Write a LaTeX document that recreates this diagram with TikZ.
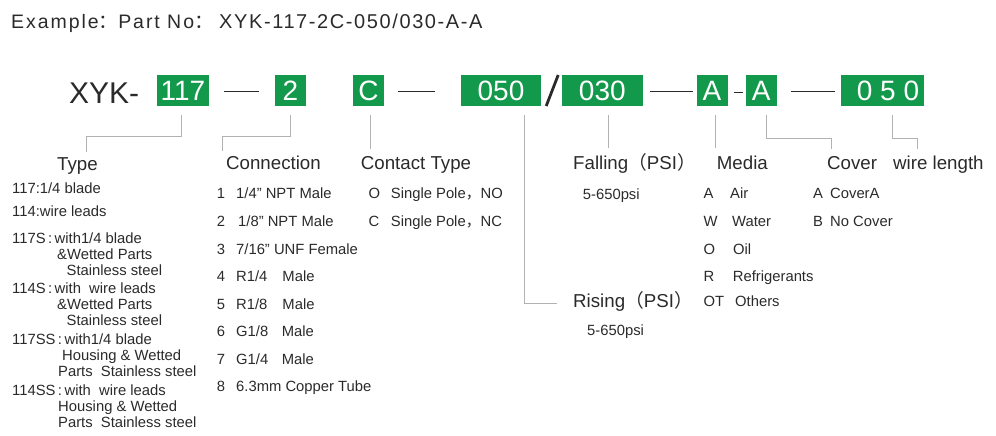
\documentclass[tikz,border=0pt]{standalone}
\usepackage{fontspec}
\setmainfont{Liberation Sans}
\newfontfamily\cjk{Noto Sans CJK SC}
\newfontfamily\spaced[LetterSpace=10]{Liberation Sans}
\newfontfamily\narrowspaced[LetterSpace=8]{Liberation Sans}
\newcommand{\fw}[1]{{\cjk #1}}

\definecolor{boxgreen}{HTML}{13994B}
\definecolor{ink}{HTML}{2A2A2A}
\definecolor{wire}{HTML}{B2B2B2}

\tikzset{
    box node/.style={fill=boxgreen, text=white, inner sep=0pt, minimum height=31pt,
        font=\fontsize{28}{28}\selectfont, text height=20pt, text depth=0pt},
    head node/.style={anchor=base west, inner sep=0pt, text=ink, font=\fontsize{18.7}{20}\selectfont},
    item node/.style={anchor=base west, inner sep=0pt, text=ink, font=\fontsize{14.8}{16}\selectfont},
    link/.style={draw=wire, line width=0.9pt},
    bar/.style={draw=ink, line width=1.3pt}
    }

\begin{document}
\begin{tikzpicture}[x=1pt, y=-1pt]
    \useasboundingbox (0,0) rectangle (996,436);
    % Title line
    \node(title)[anchor=base west, inner sep=0pt, text=ink, font=\spaced\fontsize{19.5}{20}\selectfont]
        at (11,29) {Example\fw{：}Part No\fw{：}};
    \node(partno)[anchor=base west, inner sep=0pt, text=ink, font=\narrowspaced\fontsize{20}{22}\selectfont]
        at (219,29) {XYK-117-2C-050/030-A-A};
    % The code boxes
    \node(xyk)[anchor=base west, inner sep=0pt, text=ink, font=\fontsize{30}{30}\selectfont] at (69,103.3) {XYK-};
    \node(b117)[box node, minimum width=52pt] at (183,90.5) {117};
    \node(b2)[box node, minimum width=31pt] at (290.3,90.5) {2};
    \node(bC)[box node, minimum width=31pt] at (368.5,90.5) {C};
    \node(b050)[box node, minimum width=80pt] at (501,90.5) {050\hspace{8pt}};
    \node(b030)[box node, minimum width=81pt] at (602.3,90.5) {030};
    \node(bA1)[box node, minimum width=31pt] at (712,90.5) {A};
    \node(bA2)[box node, minimum width=31pt] at (761.3,90.5) {A};
    \node(bWire)[box node, minimum width=83pt] at (882.5,90.5) {\hspace{11pt}0 5 0};
    % Separators
    \draw[bar] ([shift={(15,1)}]b117.east) -- ([shift={(-16,1)}]b2.west);
    \draw[bar] ([shift={(14,1)}]bC.east) -- ([shift={(-26,1)}]b050.west);
    \draw[bar] ([shift={(7,1)}]b030.east) -- ([shift={(-3,1)}]bA1.west);
    \draw[bar] ([shift={(6,2)}]bA1.east) -- ([shift={(-3,2)}]bA2.west);
    \draw[bar] ([shift={(14,1)}]bA2.east) -- ([shift={(-6,1)}]bWire.west);
    \draw[draw=ink, line width=2.8pt] (b050.east) ++(5,15.5) -- ++(12,-31);
    % Headings
    \node(hType)[head node] at (57,170) {Type};
    \node(hConn)[head node] at (226,169.5) {Connection};
    \node(hCont)[head node] at (360.7,169.5) {Contact Type};
    \node(hFall)[head node] at (573,169.5) {Falling\fw{（}PSI\fw{）}};
    \node(hMedia)[head node] at (716.7,169.5) {Media};
    \node(hCover)[head node] at (827,169.5) {Cover};
    \node(hWire)[head node] at (893,169.5) {wire length};
    \node(hRise)[head node] at (573,307) {Rising\fw{（}PSI\fw{）}};
    % Connectors
    \coordinate (eType) at (86,152);
    \coordinate (eConn) at (222,151);
    \coordinate (eCont) at (370,149);
    \coordinate (eRise) at (557,303);
    \coordinate (eFall) at (608,148);
    \coordinate (eMedia) at (715,148);
    \coordinate (eCover) at (831,149);
    \coordinate (eWire) at (917,149);
    \draw[link] (b117.south) ++(-2,9) -- ++(0,21) -| (eType);
    \draw[link] (b2.south) ++(0,9) -- ++(0,21) -| (eConn);
    \draw[link] (bC.south) ++(1.5,9) -- (eCont);
    \draw[link] (b050.south) ++(23,9) |- (eRise);
    \draw[link] (b030.south) ++(5.7,9) -- (eFall);
    \draw[link] (bA1.south) ++(3,9) -- (eMedia);
    \draw[link] (bA2.south) ++(4.7,9) -- ++(0,23) -| (eCover);
    \draw[link] (bWire.south) ++(9.5,9) -- ++(0,23) -| (eWire);
    % Type list
    \node(t1)[item node] at (12,193.3) {117:1/4 blade};
    \node(t2)[item node] at (12,216.7) {114:wire leads};
    \node(t3)[item node] at (12,243.3) {117S\,:\,with1/4 blade};
    \node(t3a)[item node] at (57,259.3) {\&Wetted Parts};
    \node(t3b)[item node] at (66.5,275) {Stainless steel};
    \node(t4)[item node] at (12,293.3) {114S\,:\,with\ \ wire leads};
    \node(t4a)[item node] at (57,309.3) {\&Wetted Parts};
    \node(t4b)[item node] at (66.5,325) {Stainless steel};
    \node(t5)[item node] at (12,344.3) {117SS\,:\,with1/4 blade};
    \node(t5a)[item node] at (62,360.7) {Housing \& Wetted};
    \node(t5b)[item node] at (58,376) {Parts\ \ Stainless steel};
    \node(t6)[item node] at (12,395.7) {114SS\,:\,with\ \ wire leads};
    \node(t6a)[item node] at (58,411.7) {Housing \& Wetted};
    \node(t6b)[item node] at (58,427.7) {Parts\ \ Stainless steel};
    % Connection list
    \node(c1)[item node] at (216.7,198.3) {\makebox[19.3pt][l]{1}1/4” NPT Male};
    \node(c2)[item node] at (216.7,226.7) {\makebox[21.3pt][l]{2}1/8” NPT Male};
    \node(c3)[item node] at (216.7,254) {\makebox[19.3pt][l]{3}7/16” UNF Female};
    \node(c4)[item node] at (216.7,281.7) {\makebox[19.3pt][l]{4}R1/4\hspace{15pt}Male};
    \node(c5)[item node] at (216.7,309) {\makebox[19.3pt][l]{5}R1/8\hspace{15pt}Male};
    \node(c6)[item node] at (216.7,336.7) {\makebox[19.3pt][l]{6}G1/8\hspace{13.5pt}Male};
    \node(c7)[item node] at (216.7,364) {\makebox[19.3pt][l]{7}G1/4\hspace{13.5pt}Male};
    \node(c8)[item node] at (216.7,391) {\makebox[19.3pt][l]{8}6.3mm Copper Tube};
    % Contact type
    \node(k1)[item node] at (368.3,198.3) {\makebox[22.4pt][l]{O}Single Pole\fw{，}NO};
    \node(k2)[item node] at (368.3,226.7) {\makebox[22.4pt][l]{C}Single Pole\fw{，}NC};
    % Pressure
    \node(p1)[item node] at (582.7,199.3) {5-650psi};
    \node(p2)[item node] at (587,335) {5-650psi};
    % Media
    \node(m1)[item node] at (703.3,198.3) {\makebox[26.7pt][l]{A}Air};
    \node(m2)[item node] at (703.3,226) {\makebox[28.7pt][l]{W}Water};
    \node(m3)[item node] at (703.3,254) {\makebox[29.7pt][l]{O}Oil};
    \node(m4)[item node] at (703.3,281) {\makebox[29.4pt][l]{R}Refrigerants};
    \node(m5)[item node] at (703.3,306.7) {\makebox[31.7pt][l]{OT}Others};
    % Cover
    \node(v1)[item node] at (813,198.3) {\makebox[17pt][l]{A}CoverA};
    \node(v2)[item node] at (813,226) {\makebox[17pt][l]{B}No Cover};
\end{tikzpicture}
\end{document}
